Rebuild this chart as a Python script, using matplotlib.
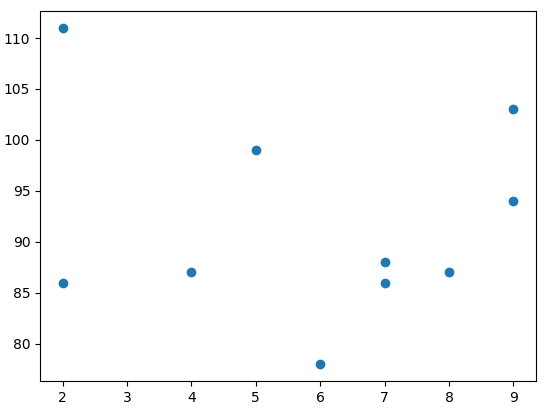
import matplotlib
matplotlib.use('Agg')
import matplotlib.pyplot as plt

# values
x = [5, 7, 8, 7, 2, 2, 9, 4, 6, 9]
y = [99, 86, 87, 88, 111, 86, 103, 87, 78, 94]

W, H = 546, 413
fig = plt.figure(figsize=(W / 100, H / 100), dpi=100)
# axes box placed to match the reference pixels
ax = fig.add_axes([40 / W, (H - 381) / H, (536 - 40) / W, (381 - 11) / H])
ax.scatter(x, y)
fig.savefig('out.png', dpi=100)
